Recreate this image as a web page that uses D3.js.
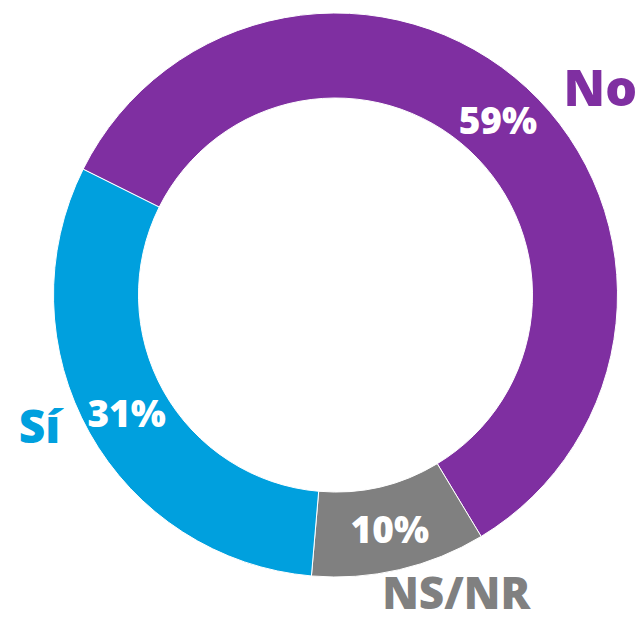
<!DOCTYPE html>
<html>
<head>
<meta charset="utf-8">
<script src="https://cdn.jsdelivr.net/npm/d3@7"></script>
<style>
  html, body { margin: 0; padding: 0; background: #ffffff; }
  svg { display: block; }
  text { font-family: "Open Sans", "Noto Sans", sans-serif; font-weight: 800; }
</style>
</head>
<body>
<svg id="chart" width="639" height="627"></svg>
<script>
// Data
const categories = ["No", "NS/NR", "Sí"];
const values = [59, 10, 31];
const valueLabels = ["59%", "10%", "31%"];
const colors = ["#7F2FA1", "#808080", "#00A0DE"];

// Layout
const W = 639, H = 627;
const cx = 335.5, cy = 295;
const rOuter = 282, rInner = 197;
const startDeg = -63.5;

const svg = d3.select("#chart");
const g = svg.append("g").attr("transform", `translate(${cx},${cy})`);

const pie = d3.pie().sort(null).value(d => d.value)
  .startAngle(startDeg * Math.PI / 180)
  .endAngle((startDeg + 360) * Math.PI / 180);

const data = categories.map((c, i) => ({ cat: c, value: values[i], label: valueLabels[i], color: colors[i] }));
const arcs = pie(data);

const arc = d3.arc().innerRadius(rInner).outerRadius(rOuter);

g.selectAll("path.slice").data(arcs).enter().append("path")
  .attr("class", "slice")
  .attr("d", arc)
  .attr("fill", d => d.data.color)
  .attr("stroke", "#ffffff")
  .attr("stroke-width", 1);

// value labels at centroids
g.selectAll("text.val").data(arcs).enter().append("text")
  .attr("class", "val")
  .attr("x", d => arc.centroid(d)[0])
  .attr("y", d => arc.centroid(d)[1])
  .attr("text-anchor", "middle")
  .attr("dominant-baseline", "central")
  .attr("fill", "#ffffff")
  .attr("font-size", 37)
  .text(d => d.data.label);

// category labels (outside the ring); x,y = text-anchor point, alphabetic baseline
const catPos = {
  "No":    { angle: 52,    r: 336, size: 50, dy: 18 },
  "NS/NR": { angle: 158.2, r: 325, size: 44, dy: 12 },
  "Sí":    { angle: 246,   r: 324, size: 46, dy: 16 }
};
g.selectAll("text.cat").data(arcs).enter().append("text")
  .attr("class", "cat")
  .attr("x", d => Math.sin(catPos[d.data.cat].angle * Math.PI / 180) * catPos[d.data.cat].r)
  .attr("y", d => -Math.cos(catPos[d.data.cat].angle * Math.PI / 180) * catPos[d.data.cat].r + catPos[d.data.cat].dy)
  .attr("text-anchor", "middle")
  .attr("fill", d => d.data.color)
  .attr("font-size", d => catPos[d.data.cat].size)
  .text(d => d.data.cat);
</script>
</body>
</html>
